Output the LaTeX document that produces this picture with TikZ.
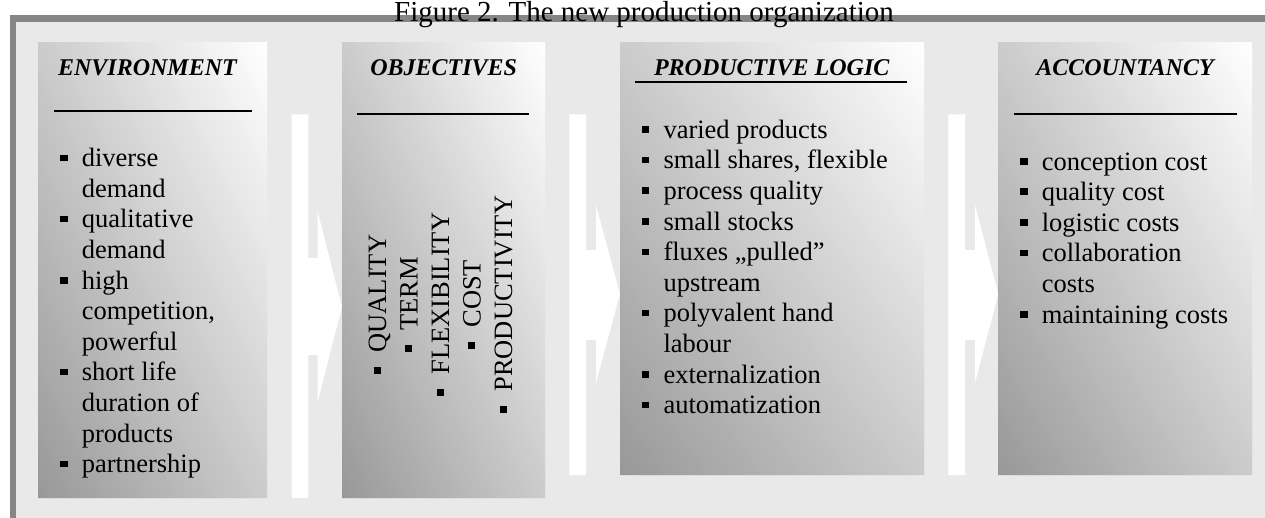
\documentclass[tikz,border=0pt]{standalone}
\usepackage{fontspec}
\setmainfont{Liberation Serif}
\definecolor{framegray}{HTML}{858585}
\definecolor{bggray}{HTML}{E9E9E9}
\definecolor{boxdark}{HTML}{989898}
\newcommand\bx{\makebox[21.6pt][l]{\rule[5.5pt]{7.3pt}{6.7pt}}}
% diagonal gradient: dark at bottom-left, white at top-right
\newcommand\gradbox[4]{%
 \begin{scope}
 \clip (#1,#2) rectangle (#3,#4);
 \foreach \k in {0,...,89}{%
   \pgfmathsetmacro\ta{2*\k/90}%
   \pgfmathsetmacro\tb{2*(\k+1.4)/90}%
   \pgfmathsetmacro\pc{100*(\k+0.5)/90}%
   \fill[white!\pc!boxdark] ({#1+\ta*(#3-#1)},#4) -- ({#1+\tb*(#3-#1)},#4) -- (#1,{#4-\tb*(#4-#2)}) -- (#1,{#4-\ta*(#4-#2)}) -- cycle;
 }
 \end{scope}}
\begin{document}
\begin{tikzpicture}[x=1pt,y=-1pt,
  box/.style={inner sep=0pt, outer sep=0pt, anchor=north west, draw=none},
  head/.style={font=\fontsize{24}{28}\selectfont\bfseries\itshape, anchor=base, inner sep=0pt},
  lst/.style={font=\fontsize{26.5}{30.6}\selectfont, anchor=base west, inner sep=0pt},
  rot/.style={font=\fontsize{26.5}{30.6}\selectfont, anchor=base, rotate=90, inner sep=0pt},
  headrule/.style={line width=2pt},
  flow/.style={fill=white, draw=none}]
\useasboundingbox (0,0) rectangle (1265,517);
\clip (0,0) rectangle (1265,517);
% frame
\draw[line width=6.5pt, draw=framegray, fill=bggray] (13,18.3) rectangle (1300,560);
% title
\node[font=\fontsize{29}{34}\selectfont, anchor=base, inner sep=0pt] (title) at (644,21) {Figure 2. The new production organization};
% flow arrows
\fill[flow] (291.7,114.3) -- (308.3,114.3) -- (308.3,258) -- (317.7,258) -- (317.7,211.7) -- (342,306.7) -- (317.7,401.7) -- (317.7,355) -- (308.3,355) -- (308.3,498) -- (291.7,498) -- cycle;
\fill[flow] (569.3,114.3) -- (586,114.3) -- (586,250) -- (596,250) -- (596,205) -- (620,294) -- (596,383) -- (596,340) -- (586,340) -- (586,475) -- (569.3,475) -- cycle;
\fill[flow] (948.3,114.3) -- (965,114.3) -- (965,250) -- (975,250) -- (975,205) -- (998.3,294) -- (975,383) -- (975,340) -- (965,340) -- (965,475) -- (948.3,475) -- cycle;
% boxes (gradient fill, then named nodes)
\gradbox{38}{42}{267}{498}
\gradbox{342}{42}{545}{498}
\gradbox{620}{42}{924}{475}
\gradbox{998}{42}{1252}{475}
\node[box, minimum width=229pt, minimum height=456pt] (b1) at (38,42) {};
\node[box, minimum width=203pt, minimum height=456pt] (b2) at (342,42) {};
\node[box, minimum width=304pt, minimum height=433pt] (b3) at (620,42) {};
\node[box, minimum width=254pt, minimum height=433pt] (b4) at (998,42) {};
% headings
\node[head] (h1) at (147.5,75) {ENVIRONMENT};
\node[head] (h2) at (443.7,75) {OBJECTIVES};
\node[head] (h3) at (771.7,75) {PRODUCTIVE LOGIC};
\node[head] (h4) at (1125,75) {ACCOUNTANCY};
\draw[headrule] (54,110.7) -- (251.7,110.7);
\draw[headrule] (356.7,114) -- (529,114);
\draw[headrule] (635,82.3) -- (907.3,82.3);
\draw[headrule] (1014,114) -- (1236.7,114);
% lists
\node[lst] (l1) at (60,166.7) {\begin{tabular}[t]{@{}l@{}l@{}}
\bx & diverse\\ & demand\\ \bx & qualitative\\ & demand\\ \bx & high\\ & competition,\\ & powerful\\ \bx & short life\\ & duration of\\ & products\\ \bx & partnership
\end{tabular}};
\node[lst] (l3) at (641.7,138.3) {\begin{tabular}[t]{@{}l@{}l@{}}
\bx & varied products\\ \bx & small shares, flexible\\ \bx & process quality\\ \bx & small stocks\\ \bx & fluxes ,,pulled'' \\ & upstream\\ \bx & polyvalent hand\\ & labour\\ \bx & externalization\\ \bx & automatization
\end{tabular}};
\node[lst] (l4) at (1020,170) {\begin{tabular}[t]{@{}l@{}l@{}}
\bx & conception cost\\ \bx & quality cost\\ \bx & logistic costs\\ \bx & collaboration\\ & costs\\ \bx & maintaining costs
\end{tabular}};
% rotated objectives
\node[rot] (o1) at (386,304.5) {\bx QUALITY};
\node[rot] (o2) at (417.5,304.5) {\bx TERM};
\node[rot] (o3) at (449,304.5) {\bx FLEXIBILITY};
\node[rot] (o4) at (480.5,304.5) {\bx COST};
\node[rot] (o5) at (512,304.5) {\bx PRODUCTIVITY};
\end{tikzpicture}
\end{document}
